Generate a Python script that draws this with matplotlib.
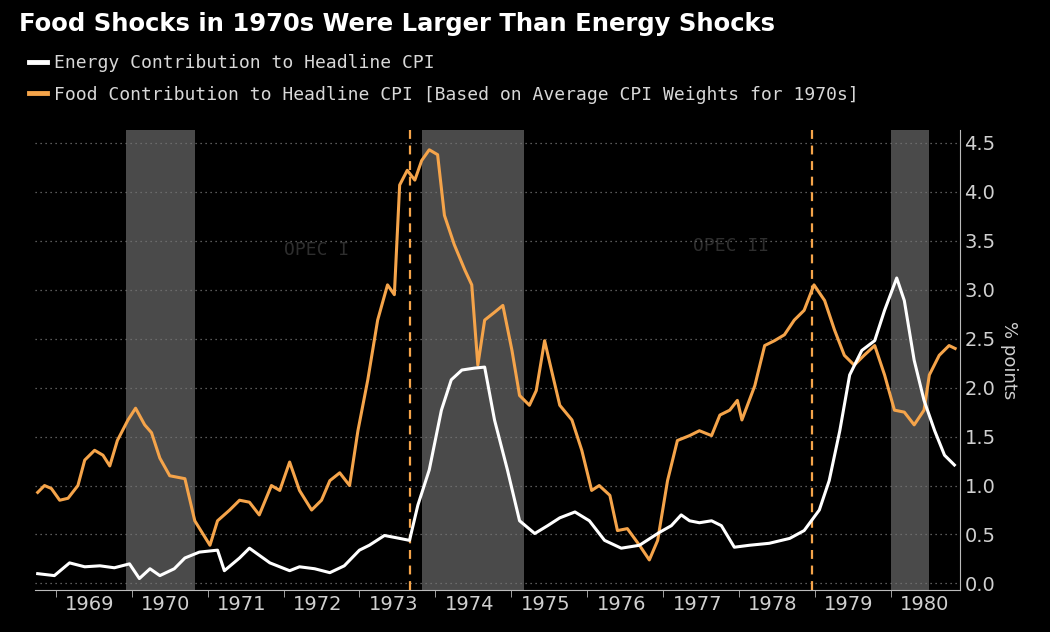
import matplotlib
matplotlib.use("Agg")
import matplotlib.pyplot as plt
from matplotlib.lines import Line2D

food_t = [1968.76,1968.85,1968.94,1969.05,1969.16,1969.29,1969.38,1969.51,1969.62,1969.71,1969.81,1969.95,1970.05,1970.17,1970.26,1970.37,1970.50,1970.70,1970.83,1971.03,1971.13,1971.29,1971.42,1971.55,1971.68,1971.84,1971.95,1972.08,1972.21,1972.37,1972.50,1972.61,1972.74,1972.87,1972.98,1973.11,1973.24,1973.37,1973.46,1973.53,1973.63,1973.73,1973.82,1973.92,1974.03,1974.12,1974.25,1974.39,1974.48,1974.56,1974.65,1974.78,1974.89,1975.01,1975.11,1975.24,1975.33,1975.44,1975.53,1975.64,1975.80,1975.93,1976.06,1976.16,1976.30,1976.40,1976.53,1976.69,1976.82,1976.93,1977.06,1977.19,1977.35,1977.48,1977.64,1977.75,1977.88,1977.98,1978.04,1978.21,1978.34,1978.47,1978.60,1978.73,1978.86,1978.99,1979.13,1979.26,1979.39,1979.52,1979.65,1979.79,1979.92,1980.05,1980.18,1980.31,1980.44,1980.51,1980.64,1980.77,1980.85]
food_v = [0.93,1.0,0.97,0.85,0.87,1.0,1.26,1.36,1.31,1.2,1.46,1.67,1.79,1.62,1.54,1.28,1.1,1.07,0.64,0.39,0.64,0.75,0.85,0.83,0.7,1.0,0.95,1.24,0.95,0.75,0.85,1.05,1.13,1.0,1.56,2.08,2.69,3.05,2.95,4.07,4.22,4.12,4.32,4.43,4.38,3.76,3.46,3.2,3.05,2.23,2.69,2.77,2.84,2.38,1.92,1.82,1.97,2.48,2.18,1.82,1.67,1.36,0.95,1.0,0.9,0.54,0.56,0.39,0.24,0.44,1.05,1.46,1.51,1.56,1.51,1.72,1.77,1.87,1.67,2.02,2.43,2.48,2.54,2.69,2.79,3.05,2.89,2.59,2.33,2.23,2.33,2.43,2.13,1.77,1.75,1.62,1.77,2.13,2.33,2.43,2.40]

energy_t = [1968.76,1968.98,1969.18,1969.38,1969.58,1969.77,1969.97,1970.10,1970.24,1970.37,1970.56,1970.70,1970.89,1971.13,1971.22,1971.42,1971.55,1971.82,1972.08,1972.21,1972.41,1972.61,1972.80,1973.00,1973.13,1973.33,1973.53,1973.66,1973.77,1973.92,1974.08,1974.21,1974.35,1974.52,1974.65,1974.78,1974.95,1975.11,1975.31,1975.48,1975.64,1975.84,1976.03,1976.23,1976.45,1976.69,1976.95,1977.11,1977.24,1977.35,1977.48,1977.64,1977.77,1977.94,1978.14,1978.40,1978.67,1978.86,1979.06,1979.19,1979.33,1979.46,1979.62,1979.79,1979.92,1980.08,1980.18,1980.31,1980.44,1980.58,1980.71,1980.84]
energy_v = [0.10,0.08,0.21,0.17,0.18,0.16,0.20,0.05,0.15,0.08,0.15,0.26,0.32,0.34,0.13,0.26,0.36,0.21,0.13,0.17,0.15,0.11,0.18,0.34,0.39,0.49,0.46,0.44,0.80,1.16,1.77,2.08,2.18,2.2,2.21,1.67,1.16,0.64,0.51,0.59,0.67,0.73,0.64,0.44,0.36,0.39,0.52,0.59,0.70,0.64,0.62,0.64,0.59,0.37,0.39,0.41,0.46,0.54,0.75,1.05,1.56,2.13,2.38,2.48,2.79,3.12,2.89,2.28,1.87,1.56,1.31,1.21]

recessions = [(1969.92, 1970.83), (1973.83, 1975.17), (1980.0, 1980.5)]
shocks = [1973.66, 1978.97]
shock_labels = ["OPEC I", "OPEC II"]
years = list(range(1969, 1981))
yticks = [0.0, 0.5, 1.0, 1.5, 2.0, 2.5, 3.0, 3.5, 4.0, 4.5]

ORANGE = "#f5a44a"
fig = plt.figure(figsize=(10.5, 6.32), dpi=100, facecolor="black")
ax = fig.add_axes([0.033, 0.066, 0.881, 0.728], facecolor="black")

for a, b in recessions:
    ax.axvspan(a, b, color="#4a4a4a", lw=0, zorder=0)
for s in shocks:
    ax.axvline(s, color=ORANGE, ls=(0, (4, 3)), lw=1.6, zorder=2)
ax.text(1972.0, 3.35, shock_labels[0], color="#2e2e2e", fontsize=13, family="DejaVu Sans Mono", zorder=1)
ax.text(1977.4, 3.4, shock_labels[1], color="#2e2e2e", fontsize=13, family="DejaVu Sans Mono", zorder=1)

ax.plot(food_t, food_v, color=ORANGE, lw=2.2, zorder=3)
ax.plot(energy_t, energy_v, color="white", lw=2.2, zorder=4)

ax.set_xlim(1968.72, 1980.91)
ax.set_ylim(-0.07, 4.63)
ax.yaxis.tick_right()
ax.set_yticks(yticks)
ax.set_yticklabels([f"{v:.1f}" for v in yticks])
ax.set_xticks([y + 0.45 for y in years])
ax.set_xticklabels([str(y) for y in years])
ax.set_xticks([y for y in years], minor=True)
ax.tick_params(axis="both", colors="#d0d0d0", labelsize=14, length=0)
ax.tick_params(axis="x", which="minor", length=5, color="#bbbbbb")
ax.grid(axis="y", color="#777777", ls=(0, (1, 3)), lw=0.9)
for sp in ["top", "left"]:
    ax.spines[sp].set_visible(False)
ax.spines["right"].set_color("#bbbbbb")
ax.spines["bottom"].set_color("#bbbbbb")
ax.yaxis.set_label_position("right")
ax.set_ylabel("% points", color="#d0d0d0", fontsize=13, rotation=-90, labelpad=16)

fig.text(0.018, 0.962, "Food Shocks in 1970s Were Larger Than Energy Shocks", color="white",
         fontsize=17.5, fontweight="bold", va="center")
handles = [Line2D([], [], color="white", lw=3.5), Line2D([], [], color=ORANGE, lw=3.5)]
fig.legend(handles, ["Energy Contribution to Headline CPI",
                     "Food Contribution to Headline CPI [Based on Average CPI Weights for 1970s]"],
           loc="upper left", bbox_to_anchor=(0.012, 0.94), frameon=False, handlelength=1.0,
           handletextpad=0.4, labelspacing=0.75, prop={"family": "DejaVu Sans Mono", "size": 13},
           labelcolor="#d8d8d8")

fig.savefig("out.png", dpi=100, facecolor="black")
